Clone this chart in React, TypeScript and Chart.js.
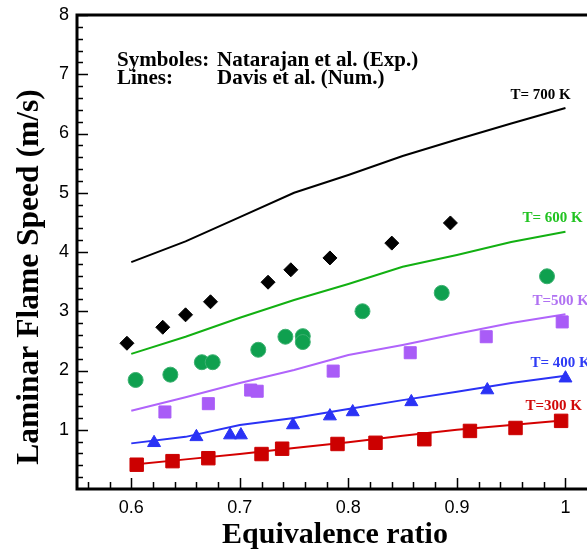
import React, { useEffect, useRef } from 'react';
import { Chart, registerables } from 'chart.js';

Chart.register(...registerables);

// Numerical curves (Davis et al.) sampled on a common equivalence-ratio grid
const phiGrid = [0.6, 0.65, 0.7, 0.75, 0.8, 0.85, 0.9, 0.95, 1.0];
const davis700 = [3.83, 4.18, 4.59, 5.0, 5.3, 5.62, 5.9, 6.17, 6.43];
const davis600 = [2.28, 2.57, 2.89, 3.19, 3.46, 3.75, 3.95, 4.17, 4.34];
const davis500 = [1.32, 1.55, 1.79, 2.01, 2.26, 2.43, 2.62, 2.8, 2.95];
const davis400 = [0.77, 0.88, 1.08, 1.2, 1.35, 1.5, 1.64, 1.79, 1.91];
const davis300 = [0.41, 0.5, 0.59, 0.69, 0.79, 0.9, 1.0, 1.08, 1.16];

// Experimental points (Natarajan et al.)
const exp700Phi = [0.596, 0.629, 0.65, 0.673, 0.726, 0.747, 0.783, 0.84, 0.894];
const exp700Speed = [2.46, 2.73, 2.94, 3.16, 3.49, 3.7, 3.9, 4.15, 4.49];
const exp600Phi = [0.604, 0.636, 0.665, 0.675, 0.717, 0.742, 0.758, 0.758, 0.813, 0.886, 0.983];
const exp600Speed = [1.84, 1.93, 2.14, 2.14, 2.35, 2.57, 2.58, 2.48, 3.0, 3.31, 3.59];
const exp500Phi = [0.631, 0.671, 0.71, 0.716, 0.786, 0.857, 0.927, 0.997];
const exp500Speed = [1.3, 1.44, 1.67, 1.65, 1.99, 2.3, 2.57, 2.82];
const exp400Phi = [0.621, 0.66, 0.691, 0.701, 0.749, 0.783, 0.804, 0.858, 0.928, 1.0];
const exp400Speed = [0.78, 0.88, 0.91, 0.91, 1.08, 1.23, 1.3, 1.47, 1.67, 1.87];
const exp300Phi = [0.605, 0.638, 0.671, 0.72, 0.739, 0.79, 0.825, 0.87, 0.912, 0.954, 0.996];
const exp300Speed = [0.41, 0.47, 0.52, 0.59, 0.68, 0.76, 0.78, 0.84, 0.98, 1.03, 1.15];

const curveLabels = ['T= 700 K', 'T= 600 K', 'T=500 K', 'T= 400 K', 'T=300 K'];
const xTickValues = [0.6, 0.7, 0.8, 0.9, 1.0];
const yTickValues = [1, 2, 3, 4, 5, 6, 7, 8];

const SERIF = '"Liberation Serif", "Times New Roman", serif';
const SANS = '"Liberation Sans", Arial, sans-serif';

const W = 587;
const H = 553;

const zip = (xs: number[], ys: number[]) => xs.map((x, i) => ({ x, y: ys[i] }));

const noPadding = (s: any) => {
  s.paddingLeft = 0;
  s.paddingRight = 0;
  s.paddingTop = 0;
  s.paddingBottom = 0;
};

const framePlugin = {
  id: 'frameAndAnnotations',
  afterDraw(chart: any) {
    const { ctx, chartArea } = chart;
    const xs = chart.scales.x;
    const ys = chart.scales.y;
    const { left, right, top, bottom } = chartArea;
    ctx.save();

    // inward tick marks: minor every 0.2 / 0.02, longer at the labelled values
    ctx.strokeStyle = '#000';
    ctx.lineWidth = 1.5;
    ctx.beginPath();
    for (let i = 1; i <= 40; i++) {
      const py = Math.round(ys.getPixelForValue(i * 0.2)) + 0.5;
      const len = i % 5 === 0 ? 11 : 6;
      ctx.moveTo(left, py);
      ctx.lineTo(left + len, py);
    }
    for (let i = 28; i <= 51; i++) {
      const px = Math.round(xs.getPixelForValue(i * 0.02)) + 0.5;
      if (px <= left || px >= right) continue;
      const len = i % 5 === 0 ? 11 : 7;
      ctx.moveTo(px, bottom);
      ctx.lineTo(px, bottom - len);
    }
    ctx.stroke();

    // frame (the right side runs past the canvas edge)
    ctx.lineWidth = 3;
    ctx.beginPath();
    ctx.moveTo(W + 5, top);
    ctx.lineTo(left, top);
    ctx.lineTo(left, bottom);
    ctx.lineTo(W + 5, bottom);
    ctx.stroke();

    // axis titles
    ctx.fillStyle = '#000';
    ctx.font = `bold 30px ${SERIF}`;
    ctx.textAlign = 'center';
    ctx.textBaseline = 'alphabetic';
    ctx.fillText('Equivalence ratio', 335, 543);
    ctx.save();
    ctx.translate(30, 277);
    ctx.rotate(-Math.PI / 2);
    ctx.font = `bold 31.5px ${SERIF}`;
    ctx.textBaseline = 'middle';
    ctx.fillText('Laminar Flame Speed (m/s)', 0, 0);
    ctx.restore();

    // source note
    ctx.font = `bold 21px ${SERIF}`;
    ctx.textAlign = 'left';
    ctx.textBaseline = 'middle';
    ctx.fillText('Symboles:', 117, 61);
    ctx.fillText('Natarajan et al. (Exp.)', 217, 61);
    ctx.fillText('Lines:', 117, 79);
    ctx.fillText('Davis et al. (Num.)', 217, 79);

    // curve labels anchored to the end of each curve
    const ends = [davis700, davis600, davis500, davis400, davis300];
    const colors = ['#000000', '#22c322', '#b071f2', '#2f3cf5', '#d10a0a'];
    const dx = [-55, -43, -33, -35, -40];
    const dy = [-13, -14, -13, -13, -14];
    ctx.font = `bold 15px ${SERIF}`;
    ends.forEach((arr, i) => {
      const px = xs.getPixelForValue(phiGrid[phiGrid.length - 1]);
      const py = ys.getPixelForValue(arr[arr.length - 1]);
      ctx.fillStyle = colors[i];
      ctx.fillText(curveLabels[i], px + dx[i], py + dy[i]);
    });
    ctx.restore();
  },
};

export default function App() {
  const ref = useRef<HTMLCanvasElement | null>(null);

  useEffect(() => {
    if (!ref.current) return;
    const lineDs = (data: number[], color: string) => ({
      data: zip(phiGrid, data),
      showLine: true,
      borderColor: color,
      borderWidth: 2,
      pointRadius: 0,
      fill: false,
      tension: 0,
    });
    const chart = new Chart(ref.current, {
      type: 'scatter',
      data: {
        datasets: [
          { data: zip(exp700Phi, exp700Speed), pointStyle: 'rectRot', pointRadius: 7, backgroundColor: '#000', borderColor: '#000', borderWidth: 1 },
          { data: zip(exp600Phi, exp600Speed), pointStyle: 'circle', pointRadius: 7.5, backgroundColor: '#0fa04f', borderColor: '#3cb070', borderWidth: 1 },
          { data: zip(exp500Phi, exp500Speed), pointStyle: 'rect', pointRadius: 8.5, backgroundColor: '#a95cf7', borderColor: '#a95cf7', borderWidth: 1 },
          { data: zip(exp400Phi, exp400Speed), pointStyle: 'triangle', pointRadius: 7.5, backgroundColor: '#2a32f5', borderColor: '#2a32f5', borderWidth: 1 },
          { data: zip(exp300Phi, exp300Speed), pointStyle: 'rect', pointRadius: 9.5, backgroundColor: '#cc0000', borderColor: '#cc0000', borderWidth: 1 },
          lineDs(davis700, '#000000'),
          lineDs(davis600, '#12b012'),
          lineDs(davis500, '#b064fb'),
          lineDs(davis400, '#2a32f5'),
          lineDs(davis300, '#d40000'),
        ],
      },
      options: {
        responsive: false,
        animation: false,
        devicePixelRatio: 1,
        layout: { autoPadding: false, padding: { top: 15, right: 2, left: 0, bottom: 0 } },
        plugins: { legend: { display: false }, tooltip: { enabled: false } },
        scales: {
          x: {
            type: 'linear',
            min: 0.55,
            max: 1.018,
            grid: { display: false, drawTicks: false },
            border: { display: false },
            afterFit: (s: any) => { s.height = 64; noPadding(s); },
            afterBuildTicks: (s: any) => { s.ticks = xTickValues.map((v) => ({ value: v })); },
            ticks: {
              padding: 8,
              color: '#000',
              font: { family: SANS, size: 18 },
              callback: (v: any) => String(Number(Number(v).toFixed(2))),
            },
          },
          y: {
            type: 'linear',
            min: 0,
            max: 8,
            grid: { display: false, drawTicks: false },
            border: { display: false },
            afterFit: (s: any) => { s.width = 77; noPadding(s); },
            afterBuildTicks: (s: any) => { s.ticks = yTickValues.map((v) => ({ value: v })); },
            ticks: {
              padding: 8,
              color: '#000',
              font: { family: SANS, size: 18 },
              callback: (v: any) => String(v),
            },
          },
        },
      },
      plugins: [framePlugin],
    } as any);
    return () => chart.destroy();
  }, []);

  return (
    <div style={{ position: 'fixed', left: 0, top: 0, width: W, height: H, overflow: 'hidden', background: '#fff' }}>
      <canvas ref={ref} width={W} height={H} style={{ display: 'block', width: W, height: H }} />
    </div>
  );
}
